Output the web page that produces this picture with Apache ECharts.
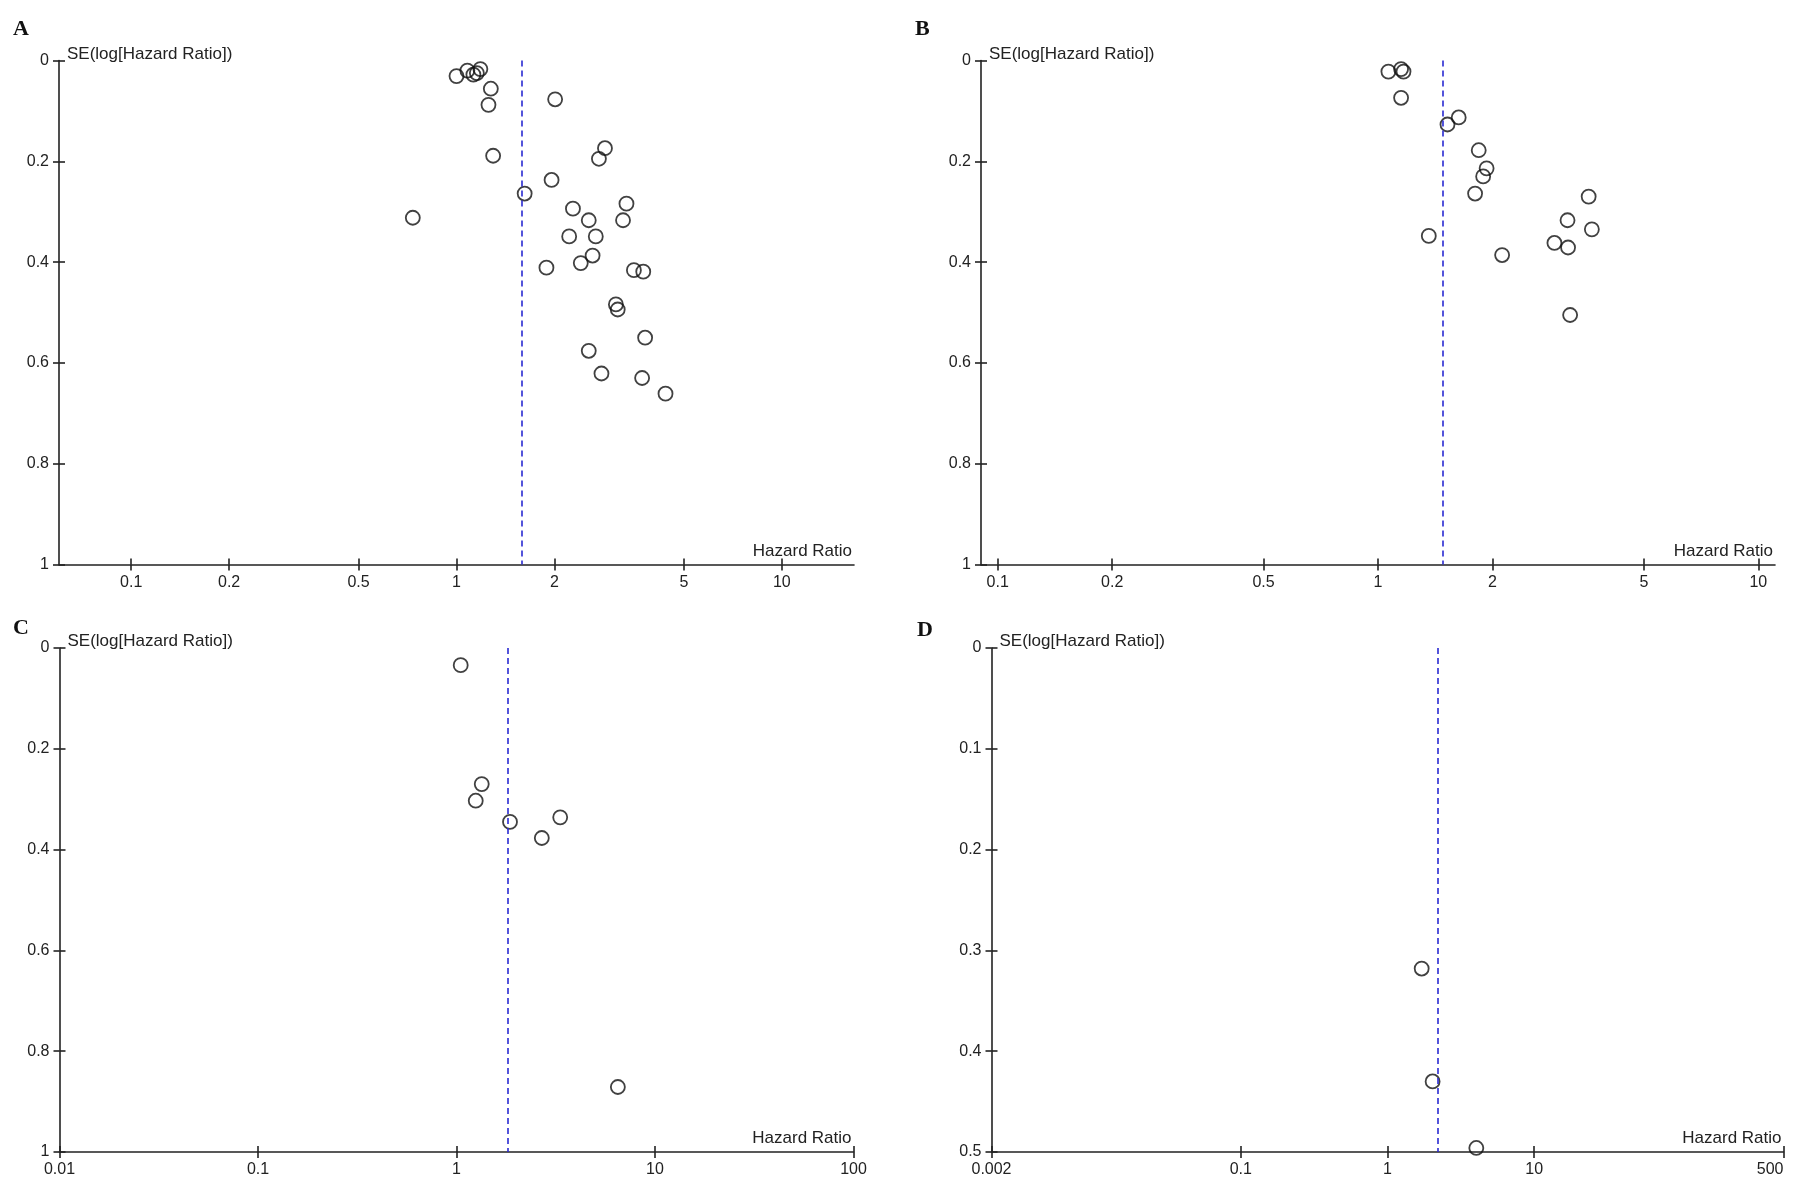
<!DOCTYPE html>
<html>
<head>
<meta charset="utf-8">
<title>Funnel plots</title>
<script src="https://cdn.jsdelivr.net/npm/echarts@6/dist/echarts.min.js"></script>
<style>
  html, body { margin: 0; padding: 0; background: #fff; }
  #chart { width: 1812px; height: 1188px; }
</style>
</head>
<body>
<div id="chart"></div>
<script>
// panel A
var hrA = [1.00, 1.08, 1.127, 1.155, 1.184, 1.275, 1.254, 2.01, 1.296, 2.86, 2.74, 1.96, 1.62, 0.734,
           2.28, 3.33, 2.55, 3.25, 2.22, 2.68, 2.62, 2.41, 1.89, 3.51, 3.75, 3.09, 3.13, 3.80, 2.55, 2.79, 3.72, 4.39];
var seA = [0.031, 0.020, 0.028, 0.025, 0.017, 0.056, 0.088, 0.077, 0.189, 0.174, 0.195, 0.237, 0.264, 0.312,
           0.294, 0.284, 0.317, 0.317, 0.349, 0.349, 0.387, 0.402, 0.411, 0.416, 0.419, 0.484, 0.494, 0.550, 0.576, 0.621, 0.630, 0.661];
var pooledA = 1.58;
var ticksA = [0.1, 0.2, 0.5, 1, 2, 5, 10];

// panel B
var hrB = [1.065, 1.15, 1.167, 1.15, 1.63, 1.523, 1.84, 1.93, 1.89, 1.80, 3.58, 3.15, 3.65, 1.36, 2.91, 3.16, 2.12, 3.20];
var seB = [0.022, 0.017, 0.022, 0.074, 0.113, 0.127, 0.178, 0.214, 0.230, 0.264, 0.270, 0.317, 0.335, 0.348, 0.362, 0.371, 0.386, 0.505];
var pooledB = 1.48;
var ticksB = [0.1, 0.2, 0.5, 1, 2, 5, 10];

// panel C
var hrC = [1.05, 1.34, 1.25, 1.86, 3.33, 2.69, 6.5];
var seC = [0.034, 0.270, 0.303, 0.345, 0.336, 0.377, 0.871];
var pooledC = 1.80;
var ticksC = [0.01, 0.1, 1, 10, 100];

// panel D
var hrD = [1.71, 2.03, 4.03];
var seD = [0.318, 0.430, 0.496];
var pooledD = 2.20;
var ticksD = [0.002, 0.1, 1, 10, 500];

var panels = [
    {letter: 'A', hr: hrA, se: seA, pooled: pooledA, ticks: ticksA, xMin: 0.06, xMax: 1 / 0.06, yMax: 1, yStep: 0.2,
     grid: {left: 59, top: 60.5, width: 795, height: 504}, letterX: 13, letterY: 18},
    {letter: 'B', hr: hrB, se: seB, pooled: pooledB, ticks: ticksB, xMin: 0.0904, xMax: 1 / 0.0904, yMax: 1, yStep: 0.2,
     grid: {left: 981, top: 60.5, width: 794, height: 504}, letterX: 915, letterY: 18},
    {letter: 'C', hr: hrC, se: seC, pooled: pooledC, ticks: ticksC, xMin: 0.01, xMax: 100, yMax: 1, yStep: 0.2,
     grid: {left: 59.5, top: 648, width: 794, height: 504}, letterX: 13, letterY: 617},
    {letter: 'D', hr: hrD, se: seD, pooled: pooledD, ticks: ticksD, xMin: 0.002, xMax: 500, yMax: 0.5, yStep: 0.1,
     grid: {left: 991.5, top: 648, width: 792, height: 504}, letterX: 917, letterY: 619, alignLast: true}
];

var ink = '#222';
var sans = 'Liberation Sans, Arial, sans-serif';

function lg(v){ return Math.log10(v); }
function hrLabel(v){ return String(+Math.pow(10, v).toPrecision(2)); }

var chart = echarts.init(document.getElementById('chart'), null, {renderer: 'canvas'});

var grids = [], xAxes = [], yAxes = [], series = [], texts = [];

for (var i = 0; i < panels.length; i++) {
    var p = panels[i];
    var g = p.grid;
    grids.push({left: g.left, top: g.top, width: g.width, height: g.height, containLabel: false});
    var tv = p.ticks.map(lg);

    // main x axis: line, outward ticks, labels
    xAxes.push({
        type: 'value', gridIndex: i, position: 'bottom',
        min: lg(p.xMin), max: lg(p.xMax),
        axisLine: {onZero: false, lineStyle: {color: ink, width: 1.6}},
        axisTick: {show: true, length: 6, customValues: tv, lineStyle: {color: ink, width: 1.6}},
        axisLabel: {customValues: tv, margin: 10, color: ink, fontFamily: sans, fontSize: 16, formatter: hrLabel,
                    alignMaxLabel: p.alignLast ? 'right' : null},
        splitLine: {show: false}
    });
    // overlay x axis: inward half of the ticks
    xAxes.push({
        type: 'value', gridIndex: i, position: 'bottom',
        min: lg(p.xMin), max: lg(p.xMax),
        axisLine: {show: false, onZero: false},
        axisTick: {show: true, inside: true, length: 6, customValues: tv, lineStyle: {color: ink, width: 1.6}},
        axisLabel: {show: false},
        splitLine: {show: false}
    });
    yAxes.push({
        type: 'value', gridIndex: i, position: 'left', inverse: true,
        min: 0, max: p.yMax, interval: p.yStep,
        axisLine: {onZero: false, lineStyle: {color: ink, width: 1.6}},
        axisTick: {show: true, length: 6, lineStyle: {color: ink, width: 1.6}},
        axisLabel: {margin: 10, color: ink, fontFamily: sans, fontSize: 16},
        splitLine: {show: false}
    });
    yAxes.push({
        type: 'value', gridIndex: i, position: 'left', inverse: true,
        min: 0, max: p.yMax, interval: p.yStep,
        axisLine: {show: false, onZero: false},
        axisTick: {show: true, inside: true, length: 6, lineStyle: {color: ink, width: 1.6}},
        axisLabel: {show: false},
        splitLine: {show: false}
    });

    var pts = [];
    for (var k = 0; k < p.hr.length; k++) {
        pts.push([lg(p.hr[k]), p.se[k]]);
    }
    series.push({
        type: 'scatter', xAxisIndex: i * 2, yAxisIndex: i * 2,
        data: pts, symbol: 'circle', symbolSize: 14,
        itemStyle: {color: 'rgba(0,0,0,0)', borderColor: '#111', borderWidth: 1.8},
        markLine: {
            silent: true, symbol: ['none', 'none'], label: {show: false},
            lineStyle: {color: '#2a2ad2', type: [6, 4], width: 1.6},
            data: [{xAxis: lg(p.pooled)}]
        },
        animation: false
    });

    // panel letter
    texts.push({
        type: 'text', left: p.letterX, top: p.letterY,
        style: {text: p.letter, font: 'bold 22px "Liberation Serif", "Times New Roman", serif', fill: '#111'}
    });
    // y axis title
    texts.push({
        type: 'text', left: g.left + 8, top: g.top - 15,
        style: {text: 'SE(log[Hazard Ratio])', font: '17px ' + sans, fill: ink}
    });
    // x axis title, right-aligned at the end of the axis
    texts.push({
        type: 'text', right: 1812 - (g.left + g.width) + 2, top: g.top + g.height - 22,
        style: {text: 'Hazard Ratio', font: '17px ' + sans, fill: ink}
    });
}

var option = {
    backgroundColor: '#fff',
    animation: false,
    grid: grids,
    xAxis: xAxes,
    yAxis: yAxes,
    series: series,
    graphic: texts
};

chart.setOption(option);
</script>
</body>
</html>
